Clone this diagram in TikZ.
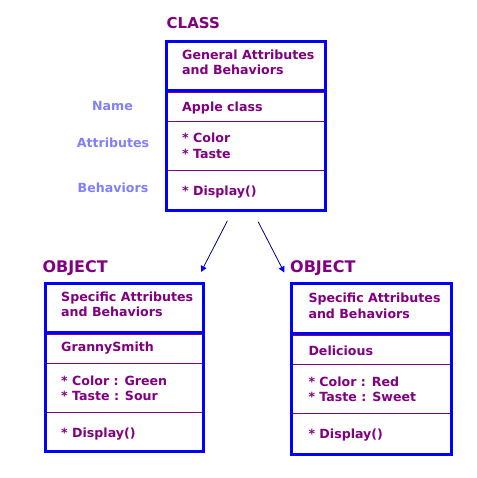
\documentclass[tikz,border=0pt]{standalone}
\usepackage{fontspec}
\setmainfont{DejaVu Sans}
\usetikzlibrary{arrows.meta}
\definecolor{umlblue}{HTML}{0000FF}
\definecolor{umlpurple}{HTML}{800080}
\definecolor{sideblue}{HTML}{8080FF}
\definecolor{arrowblue}{HTML}{000080}
\begin{document}
\begin{tikzpicture}[x=1pt, y=-1pt, line cap=round, line join=round, font=\bfseries\fontsize{12.6}{15}\selectfont, >={Triangle[length=6pt, width=6pt, color=umlblue]}]
			\tikzset{frame/.style={draw=umlblue, line width=3pt, line cap=butt, line join=miter},
				sep/.style={draw=umlpurple, line width=0.8pt, line cap=butt},
				txt/.style={anchor=base west, inner sep=0pt, text=umlpurple},
				side/.style={anchor=base, inner sep=0pt, text=sideblue},
				title/.style={anchor=base west, inner sep=0pt, text=umlpurple, font=\bfseries\fontsize{16}{18}\selectfont}}
			\useasboundingbox (0,0) rectangle (476,478);
			% class box
			\node[title, font=\bfseries\fontsize{15}{18}\selectfont] (classtitle) at (166.5,28.3) {CLASS};
			\draw[frame] (166.5,41.5) rectangle (325.5,210.5);
			\draw[frame] (166.5,90.5) -- (325.5,90.5);
			\draw[sep] (168,92.6) -- (324,92.6);
			\draw[sep] (168,121) -- (324,121);
			\draw[sep] (168,170) -- (324,170);
			\node[txt] (classhead) at (182,60) {General Attributes};
			\node[txt] (classhead2) at (182,74.8) {and Behaviors};
			\node[txt] (classname) at (182,111.5) {Apple class};
			\node[txt] (classcolor) at (182,142.7) {* Color};
			\node[txt] (classtaste) at (182,158.5) {* Taste};
			\node[txt] (classdisplay) at (182,195) {* Display()};
			\node[side] (sidename) at (112.5,110.7) {Name};
			\node[side] (sideattr) at (113,148) {Attributes};
			\node[side] (sidebeh) at (113,192.7) {Behaviors};
			% left object
			\node[title] (granntitle) at (42.3,272) {OBJECT};
			\draw[frame] (45,283.5) rectangle (203.5,451.8);
			\draw[frame] (45,332.5) -- (203.5,332.5);
			\draw[sep] (46.5,334.8) -- (202,334.8);
			\draw[sep] (46.5,363) -- (202,363);
			\draw[sep] (46.5,412) -- (202,412);
			\node[txt] (grannhead) at (61,301.7) {Specific Attributes};
			\node[txt] (grannhead2) at (61,316.7) {and Behaviors};
			\node[txt] (grannname) at (61,351.7) {GrannySmith};
			\node[txt] (granncolor) at (61,385) {* Color : Green};
			\node[txt] (granntaste) at (61,400.7) {* Taste : Sour};
			\node[txt] (granndisplay) at (61,437.7) {* Display()};
			% right object
			\node[title] (delititle) at (290,272.7) {OBJECT};
			\draw[frame] (291.5,283.8) rectangle (451.2,454.5);
			\draw[frame] (291.5,333.3) -- (451.2,333.3);
			\draw[sep] (293,335.8) -- (449.7,335.8);
			\draw[sep] (293,364.3) -- (449.7,364.3);
			\draw[sep] (293,413) -- (449.7,413);
			\node[txt] (delihead) at (308.3,302.7) {Specific Attributes};
			\node[txt] (delihead2) at (308.3,318.7) {and Behaviors};
			\node[txt] (deliname) at (308.3,355) {Delicious};
			\node[txt] (delicolor) at (308.3,386) {* Color : Red};
			\node[txt] (delitaste) at (308.3,401.7) {* Taste : Sweet};
			\node[txt] (delidisplay) at (308.3,438.3) {* Display()};
			% arrows
			\coordinate (classleft) at (227.3,221);
			\coordinate (classright) at (258.3,222);
			\coordinate (grannend) at (201,272);
			\coordinate (deliend) at (284.3,272.5);
			\draw[->, arrowblue, line width=0.8pt] (classleft) -- (grannend);
			\draw[->, arrowblue, line width=0.8pt] (classright) -- (deliend);
		\end{tikzpicture}
\end{document}
